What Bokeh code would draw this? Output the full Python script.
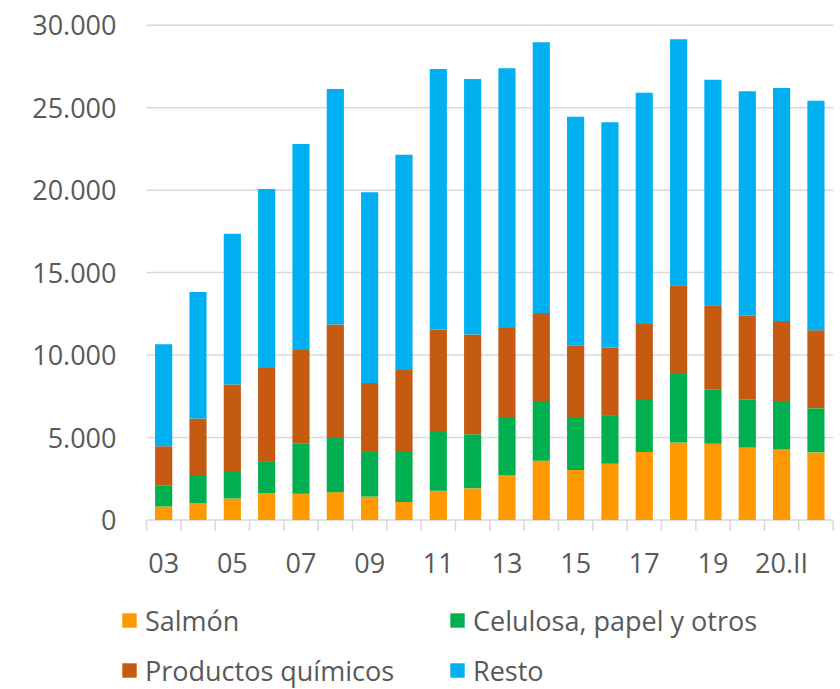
import math
from bokeh.plotting import figure
from bokeh.models import Legend, LegendItem, Range1d
from bokeh.core.properties import value
from bokeh.embed import file_html
from bokeh.resources import INLINE

categories = ["03", "04", "05", "06", "07", "08", "09", "10", "11", "12",
              "13", "14", "15", "16", "17", "18", "19", "20.I", "20.II", "20.III"]
salmon = [820, 1020, 1300, 1630, 1590, 1690, 1420, 1090, 1780, 1920,
          2720, 3590, 3030, 3410, 4120, 4700, 4620, 4390, 4300, 4100]
celulosa = [1250, 1650, 1670, 1940, 3030, 3280, 2700, 3090, 3610, 3280,
            3530, 3570, 3160, 2950, 3220, 4220, 3280, 2930, 2860, 2670]
quimicos = [2400, 3490, 5240, 5640, 5680, 6890, 4180, 4910, 6160, 6040,
            5390, 5390, 4370, 4100, 4550, 5310, 5120, 5060, 4910, 4740]
resto = [6180, 7670, 9150, 10860, 12490, 14270, 11570, 13060, 15790, 15500,
         15750, 16420, 13890, 13660, 14020, 14920, 13680, 13620, 14120, 13910]
series_names = ["Salmón", "Celulosa, papel y otros", "Productos químicos", "Resto"]
series_keys = ["salmon", "celulosa", "quimicos", "resto"]
colors = ["#FF9900", "#00B050", "#C55A11", "#00B0F0"]
y_ticks = [0, 5000, 10000, 15000, 20000, 25000, 30000]
x_tick_labels = categories[::2]

FONT = "Open Sans"
TXT = "#595959"
GRID = "#D9D9D9"

# page geometry (pixels)
W, H = 834, 689
PLOT_LEFT, PLOT_RIGHT = 146.0, 832.6
PLOT_TOP, PLOT_BOTTOM = 24.7, 519.5

n = len(categories)
px_per_x = (PLOT_RIGHT - PLOT_LEFT) / n
x_start = 0.5 - PLOT_LEFT / px_per_x
x_end = x_start + W / px_per_x
px_per_y = (PLOT_BOTTOM - PLOT_TOP) / (y_ticks[-1] - y_ticks[0])
y_start = y_ticks[0] - (H - PLOT_BOTTOM) / px_per_y
y_end = y_ticks[-1] + PLOT_TOP / px_per_y

xs = list(range(1, n + 1))
data = dict(x=xs, salmon=salmon, celulosa=celulosa, quimicos=quimicos, resto=resto)

p = figure(width=W, height=H, x_range=Range1d(x_start, x_end),
           y_range=Range1d(y_start, y_end), x_axis_type=None, y_axis_type=None,
           toolbar_location=None, output_backend="svg",
           min_border=0, outline_line_color=None)
p.xgrid.visible = False
p.ygrid.visible = False

# horizontal gridlines (the 0 line is the category axis line)
p.segment(x0=[0.5] * len(y_ticks), x1=[n + 0.5] * len(y_ticks), y0=y_ticks, y1=y_ticks,
          line_color=GRID, line_width=1.5)

renderers = p.vbar_stack(series_keys, x="x", width=0.5, color=colors,
                         line_color=None, source=data)

# category tick marks between bars
bounds = [x - 0.5 for x in xs] + [n + 0.5]
p.ray(x=bounds, y=[0] * len(bounds), length=11, length_units="screen",
      angle=-math.pi / 2, line_color=GRID, line_width=1.5)

# category labels
p.text(x=xs[::2], y=[0] * len(x_tick_labels), text=x_tick_labels, y_offset=42.5,
       text_align="center", text_baseline="middle", text_font=value(FONT),
       text_font_size="27px", text_color=TXT)

# value labels
y_labels = [f"{v:,}".replace(",", ".") for v in y_ticks]
p.text(x=[0.5] * len(y_ticks), y=y_ticks, text=y_labels, x_offset=-30,
       text_align="right", text_baseline="middle", text_font=value(FONT),
       text_font_size="27px", text_color=TXT)

for idx, lx in (([0, 2], 120), ([1, 3], 448)):
    items = [LegendItem(label=series_names[i], renderers=[renderers[i]]) for i in idx]
    lg = Legend(items=items, location=(lx, -6), orientation="vertical",
                padding=0, margin=0, border_line_color=None, background_fill_alpha=0,
                glyph_width=18, glyph_height=18, label_standoff=7, spacing=0,
                label_height=50,
                label_text_font=FONT, label_text_font_size="27px",
                label_text_color=TXT)
    p.add_layout(lg, "center")

open("out.html", "w").write(file_html(p, INLINE))
